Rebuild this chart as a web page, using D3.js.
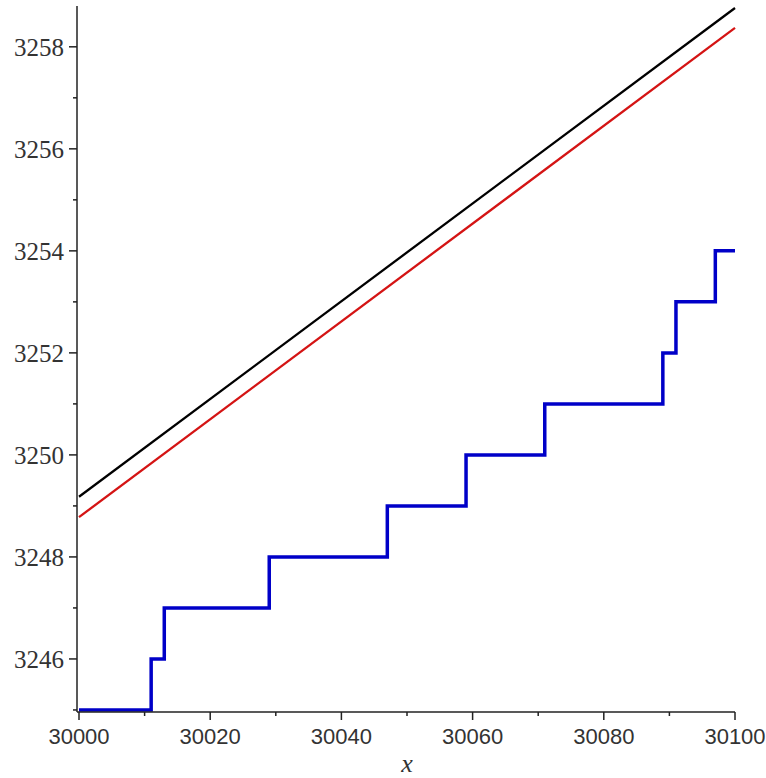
<!DOCTYPE html>
<html>
<head>
<meta charset="utf-8">
<script src="https://cdn.jsdelivr.net/npm/d3@7"></script>
<style>
  html, body { margin: 0; padding: 0; background: #fff; }
  svg { display: block; }
</style>
</head>
<body>
<svg id="chart" width="766" height="778"></svg>
<script>
// ---- data ----
const xDomain = [30000, 30100];
const yDomain = [3244.96, 3258.8];
const xMajorTicks = [30000, 30020, 30040, 30060, 30080, 30100];
const xMinorTicks = [30010, 30030, 30050, 30070, 30090];
const yMajorTicks = [3246, 3248, 3250, 3252, 3254, 3256, 3258];
const yMinorTicks = [3245, 3247, 3249, 3251, 3253, 3255, 3257];
// prime counting step function: x positions of steps and values
const stepX = [30000, 30011, 30013, 30029, 30047, 30059, 30071, 30089, 30091, 30097, 30100];
const stepY = [3245, 3246, 3247, 3248, 3249, 3250, 3251, 3252, 3253, 3254, 3254];
// approximating lines
const blackX = [30000, 30100];
const blackY = [3249.18, 3258.76];
const redX = [30000, 30100];
const redY = [3248.78, 3258.37];

// ---- layout ----
const svg = d3.select("#chart");
const x = d3.scaleLinear().domain(xDomain).range([79, 735]);
const y = d3.scaleLinear().domain(yDomain).range([712, 6]);
const axisX = 77;   // y-axis position
const axisY = 712;  // x-axis position

// lines
const line = d3.line().x(d => x(d[0])).y(d => y(d[1]));
svg.append("path")
  .attr("d", line(blackX.map((v, i) => [v, blackY[i]])))
  .attr("fill", "none").attr("stroke", "#000").attr("stroke-width", 2.3);
svg.append("path")
  .attr("d", line(redX.map((v, i) => [v, redY[i]])))
  .attr("fill", "none").attr("stroke", "#d41414").attr("stroke-width", 2.3);

const stepLine = d3.line().x(d => x(d[0])).y(d => y(d[1])).curve(d3.curveStepAfter);
svg.append("path")
  .attr("d", stepLine(stepX.map((v, i) => [v, stepY[i]])))
  .attr("fill", "none").attr("stroke", "#0000c8").attr("stroke-width", 3.5)
  .attr("stroke-linejoin", "miter");

// axes
const axColor = "#222";
svg.append("line").attr("x1", axisX).attr("x2", axisX).attr("y1", 6).attr("y2", axisY)
  .attr("stroke", axColor).attr("stroke-width", 1.5);
svg.append("line").attr("x1", axisX).attr("x2", 735).attr("y1", axisY).attr("y2", axisY)
  .attr("stroke", axColor).attr("stroke-width", 1.5);

// x ticks
svg.selectAll(".xmaj").data(xMajorTicks).enter().append("line")
  .attr("x1", d => x(d)).attr("x2", d => x(d)).attr("y1", axisY).attr("y2", axisY + 8)
  .attr("stroke", axColor).attr("stroke-width", 1.5);
svg.selectAll(".xmin").data(xMinorTicks).enter().append("line")
  .attr("x1", d => x(d)).attr("x2", d => x(d)).attr("y1", axisY).attr("y2", axisY + 4)
  .attr("stroke", axColor).attr("stroke-width", 1.5);
svg.selectAll(".xlab").data(xMajorTicks).enter().append("text")
  .attr("x", d => x(d)).attr("y", 744)
  .attr("text-anchor", "middle")
  .attr("font-family", "Liberation Sans, Arial, sans-serif")
  .attr("font-size", 22).attr("fill", "#333")
  .text(d => d);

// y ticks
svg.selectAll(".ymaj").data(yMajorTicks).enter().append("line")
  .attr("x1", axisX - 8).attr("x2", axisX).attr("y1", d => y(d)).attr("y2", d => y(d))
  .attr("stroke", axColor).attr("stroke-width", 1.5);
svg.selectAll(".ymin").data(yMinorTicks).enter().append("line")
  .attr("x1", axisX - 4).attr("x2", axisX).attr("y1", d => y(d)).attr("y2", d => y(d))
  .attr("stroke", axColor).attr("stroke-width", 1.5);
svg.selectAll(".ylab").data(yMajorTicks).enter().append("text")
  .attr("x", 64).attr("y", d => y(d)).attr("dy", "0.35em")
  .attr("text-anchor", "end")
  .attr("font-family", "Liberation Serif, Times New Roman, serif")
  .attr("font-size", 25).attr("fill", "#333")
  .text(d => d);

// axis title
svg.append("text").attr("x", 407).attr("y", 772)
  .attr("text-anchor", "middle")
  .attr("font-family", "Liberation Serif, Times New Roman, serif")
  .attr("font-style", "italic").attr("font-size", 26).attr("fill", "#333")
  .text("x");
</script>
</body>
</html>
